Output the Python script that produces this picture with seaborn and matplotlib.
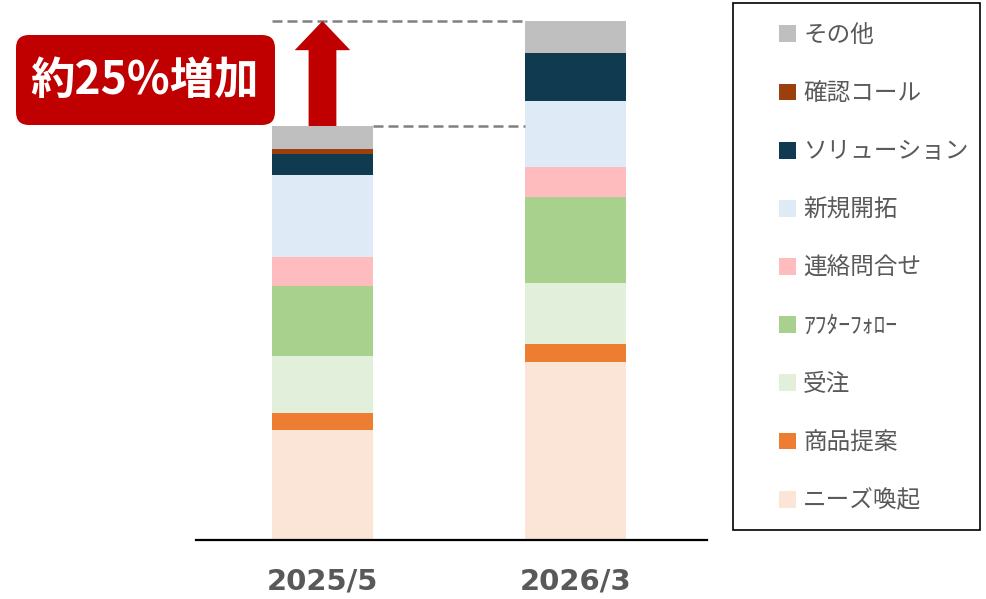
import matplotlib
matplotlib.use('Agg')
import matplotlib.pyplot as plt
import seaborn as sns
import numpy as np
from matplotlib.patches import Patch, FancyBboxPatch, FancyArrowPatch, Rectangle
from matplotlib.transforms import IdentityTransform

sns.set_style('white')
plt.rcParams['font.family'] = ['Noto Sans CJK JP', 'DejaVu Sans']

# data (bottom -> top of the stack)
periods = ['2025/5', '2026/3']
categories = ['ニーズ喚起', '商品提案', '受注', 'ｱﾌﾀｰﾌｫﾛｰ', '連絡問合せ',
              '新規開拓', 'ソリューション', '確認コール', 'その他']
vals_2025 = [110, 17, 57, 70, 29, 82, 21, 5, 23]
vals_2026 = [178, 18, 61, 86, 30, 66, 48, 0, 32]
colors = ['#FBE5D6', '#ED7D31', '#E2EFDA', '#A9D18E', '#FFBCBF',
          '#DEEBF7', '#0F3A50', '#9C3F0E', '#BFBFBF']
label_text = '約25%増加'

fig = plt.figure(figsize=(9.86, 5.99), dpi=100)
ax = fig.add_axes([196/986, 59/599, 511/986, 540/599])

# stacked bars: draw cumulative totals from the top layer down
cum = np.cumsum(np.array([vals_2025, vals_2026]), axis=1)
for i in reversed(range(len(categories))):
    sns.barplot(x=periods, y=cum[:, i], color=colors[i], width=0.4,
                saturation=1, errorbar=None, linewidth=0, ax=ax)

tot1, tot2 = cum[0, -1], cum[1, -1]

ax.set_xlim(-0.5, 1.52)
ax.set_ylim(0, 540)
ax.set_yticks([])
ax.set_ylabel('')
for s in ['top', 'right', 'left']:
    ax.spines[s].set_visible(False)
ax.spines['bottom'].set_color('black')
ax.spines['bottom'].set_linewidth(1.6)
ax.tick_params(axis='x', length=0, pad=20)
for t in ax.get_xticklabels():
    t.set_fontfamily('DejaVu Sans')
    t.set_fontweight('bold')
    t.set_fontsize(21)
    t.set_color('#595959')

# dashed guide lines
ax.plot([-0.2, 0.8], [tot2, tot2], color='#808080', lw=1.8, dashes=(4, 2), zorder=3)
ax.plot([0.2, 0.8], [tot1, tot1], color='#808080', lw=1.8, dashes=(4, 2), zorder=3)

# red arrow
arrow = FancyArrowPatch((0, tot1), (0, tot2),
                        arrowstyle='simple,head_length=21,head_width=40,tail_width=20',
                        mutation_scale=1, color='#C00000', lw=0,
                        shrinkA=0, shrinkB=0, zorder=4)
ax.add_patch(arrow)

# red label box
box = FancyBboxPatch((16, 599 - 125), 259, 90,
                     boxstyle='round,pad=0,rounding_size=13',
                     fc='#C00000', ec='none', transform=IdentityTransform())
fig.add_artist(box)
fig.text(145/986, 1 - 81/599, label_text, ha='center', va='center',
         color='white', fontsize=32, fontweight='bold')

# legend (top item = top of stack)
handles = [Patch(facecolor=c, edgecolor='none') for c in colors][::-1]
leg = ax.legend(handles, categories[::-1], loc='upper left',
                bbox_to_anchor=(779/986, 1 - 24/599), bbox_transform=fig.transFigure,
                frameon=False, borderpad=0, borderaxespad=0, fontsize=17,
                labelcolor='#595959', handlelength=0.72, handleheight=0.72,
                handletextpad=0.3, labelspacing=1.49)
fig.add_artist(Rectangle((733, 599 - 530), 247, 527, fill=False,
                         ec='black', lw=1.2, transform=IdentityTransform()))

fig.savefig('out.png', dpi=100)
